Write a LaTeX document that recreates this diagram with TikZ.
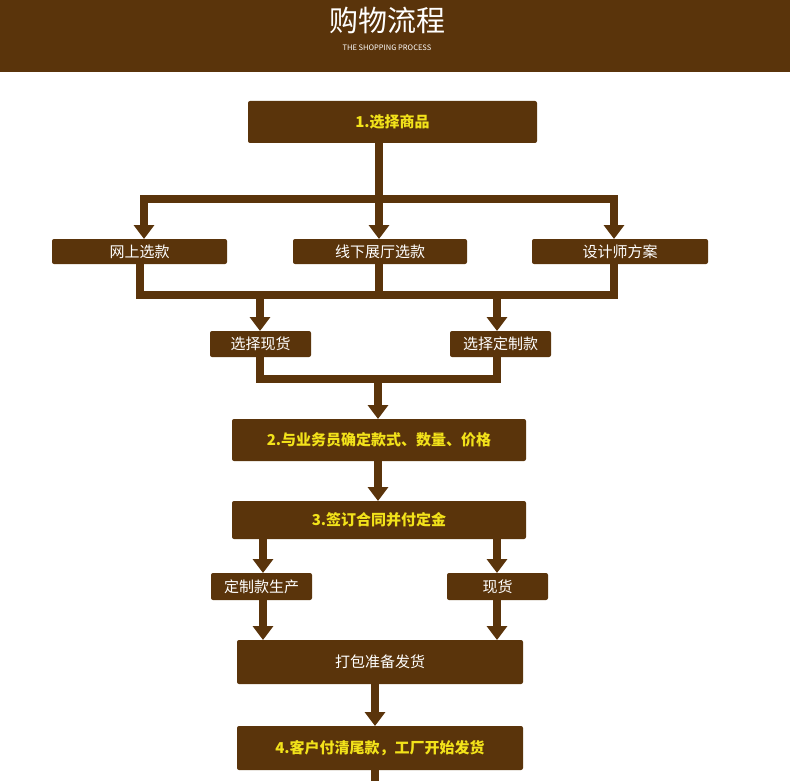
\documentclass[tikz,border=0pt]{standalone}
\usepackage{fontspec}
\setmainfont{Noto Sans CJK SC}
\usetikzlibrary{arrows.meta}
\definecolor{brn}{HTML}{5A340B}
\definecolor{ylw}{HTML}{F2E21A}
\tikzset{
  box/.style={fill=brn,rounded corners=2pt,inner sep=0pt,text=white,font=\fontsize{15}{15}\selectfont},
  main/.style={box,text=ylw,font=\bfseries\fontsize{15}{15}\selectfont},
  ln/.style={draw=brn,line width=8pt},
  arr/.style={ln,-{Triangle[width=20pt,length=14pt]}},
}
\begin{document}
\begin{tikzpicture}[x=1pt,y=-1pt]
\useasboundingbox (0,0) rectangle (790,781);
\fill[brn] (0,0) rectangle (790,72);
\node[text=white,font=\fontsize{29}{29}\selectfont] (title) at (387,20) {购物流程};
\node[text=white,font=\fontsize{7.5}{7.5}\selectfont] (sub) at (387,48) {THE SHOPPING PROCESS};
\newcommand{\bx}[6]{\node[#1,minimum width={#4-#2},minimum height={#5-#3}] (#6) at ({(#2+#4)/2},{(#3+#5)/2})}
\bx{main}{248}{101}{537}{143}{b1} {1.选择商品};
\bx{box}{52}{239}{227}{264}{w1} {网上选款};
\bx{box}{293}{239}{467}{264}{w2} {线下展厅选款};
\bx{box}{532}{239}{708}{264}{w3} {设计师方案};
\bx{box}{210}{331}{311}{357}{s1} {选择现货};
\bx{box}{450}{331}{551}{357}{s2} {选择定制款};
\bx{main}{232}{419}{526}{461}{b2} {2.与业务员确定款式、数量、价格};
\bx{main}{232}{501}{526}{539}{b3} {3.签订合同并付定金};
\bx{box}{211}{573}{312}{600}{p1} {定制款生产};
\bx{box}{447}{573}{548}{600}{p2} {现货};
\bx{box}{237}{640}{523}{684}{pk} {打包准备发货};
\bx{main}{237}{726}{523}{770}{b4} {4.客户付清尾款，工厂开始发货};
% level 1 split
\coordinate (j1) at (379,199);
\draw[ln] (b1.south -| j1) -- (j1);
\draw[ln,line cap=rect] (144,199) -- (614,199);
\draw[arr] (144,199) -- (144,239);
\draw[arr] (j1) -- (379,239);
\draw[arr] (614,199) -- (614,239);
% merge to two
\draw[ln] (140,264) -- (140,295);
\draw[ln] (379,264) -- (379,295);
\draw[ln] (614,264) -- (614,295);
\draw[ln] (136,295) -- (618,295);
\draw[arr] (260,295) -- (260,331);
\draw[arr] (497,295) -- (497,331);
% merge to b2
\draw[ln] (260,357) -- (260,379);
\draw[ln] (497,357) -- (497,379);
\draw[ln] (256,379) -- (501,379);
\draw[arr] (378,379) -- (378,419);
\draw[arr] (378,461) -- (378,501);
\draw[arr] (263,539) -- (263,573);
\draw[arr] (497,539) -- (497,573);
\draw[arr] (263,600) -- (263,640);
\draw[arr] (497,600) -- (497,640);
\draw[arr] (375,684) -- (375,726);
\draw[ln] (375,770) -- (375,781);
\end{tikzpicture}
\end{document}
